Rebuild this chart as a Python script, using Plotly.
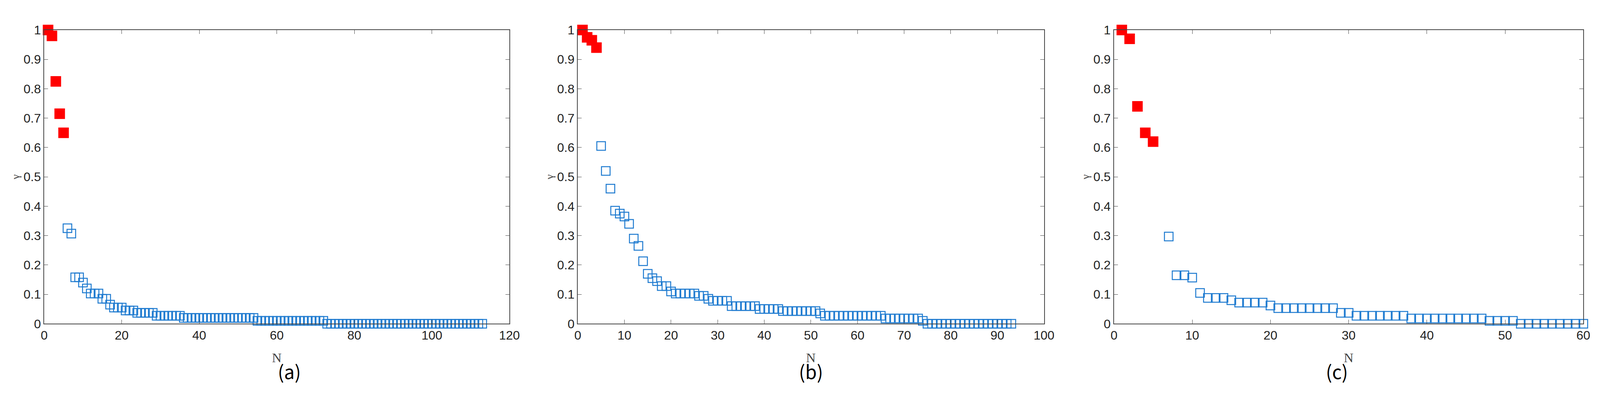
import plotly.graph_objects as go

# Panel (a)
a_red_x = [1, 2, 3, 4, 5]
a_red_y = [1.0, 0.98, 0.825, 0.715, 0.65]
a_blue_x = list(range(6, 114))
a_blue_y = ([0.325, 0.307, 0.158, 0.158, 0.14, 0.12, 0.103, 0.103, 0.103, 0.085, 0.085,
             0.065, 0.055, 0.055, 0.055, 0.045, 0.045, 0.045]
            + [0.037] * 5 + [0.027] * 7 + [0.02] * 19 + [0.01] * 18 + [0.0] * 41)

# Panel (b)
b_red_x = [1, 2, 3, 4]
b_red_y = [1.0, 0.975, 0.965, 0.94]
b_blue_x = list(range(5, 94))
b_blue_y = ([0.605, 0.52, 0.46, 0.385, 0.375, 0.365, 0.34, 0.29, 0.265, 0.213, 0.17,
             0.155, 0.145, 0.128, 0.128, 0.11]
            + [0.103] * 5 + [0.095] * 2 + [0.085] + [0.078] * 4 + [0.06] * 6
            + [0.05] * 5 + [0.043] * 8 + [0.035] + [0.027] * 13 + [0.018] * 8
            + [0.01] + [0.0] * 19)

# Panel (c)
c_red_x = [1, 2, 3, 4, 5]
c_red_y = [1.0, 0.97, 0.74, 0.65, 0.62]
c_blue_x = list(range(7, 61))
c_blue_y = ([0.297, 0.165, 0.165, 0.157, 0.105] + [0.088] * 3 + [0.08] + [0.072] * 4
            + [0.062] + [0.053] * 8 + [0.037] * 2 + [0.027] * 7 + [0.018] * 10
            + [0.01] * 4 + [0.0] * 9)

captions = ["(a)", "(b)", "(c)"]
x_ranges = [[0, 120], [0, 100], [0, 60]]
x_dtick = [20, 10, 10]
domains = [[0.0236, 0.316], [0.359, 0.652], [0.696, 0.991]]

panels = [(a_red_x, a_red_y, a_blue_x, a_blue_y),
          (b_red_x, b_red_y, b_blue_x, b_blue_y),
          (c_red_x, c_red_y, c_blue_x, c_blue_y)]

fig = go.Figure()
for i, (rx, ry, bx, by) in enumerate(panels):
    sfx = "" if i == 0 else str(i + 1)
    fig.add_trace(go.Scatter(x=bx, y=by, mode="markers", xaxis="x" + sfx, yaxis="y" + sfx,
                             marker=dict(symbol="square-open", size=22, color="#1f7bd0",
                                         line=dict(width=2.5, color="#1f7bd0")),
                             showlegend=False, cliponaxis=False))
    fig.add_trace(go.Scatter(x=rx, y=ry, mode="markers", xaxis="x" + sfx, yaxis="y" + sfx,
                             marker=dict(symbol="square", size=27, color="#ff0000",
                                         line=dict(width=0)),
                             showlegend=False, cliponaxis=False))
    ax = dict(domain=domains[i], range=x_ranges[i], dtick=x_dtick[i], tick0=0,
              showline=True, linecolor="#444", linewidth=2, mirror="ticks",
              ticks="inside", ticklen=10, tickcolor="#444", showgrid=False, zeroline=False,
              tickfont=dict(family="Liberation Sans", size=32, color="#222"),
              title=dict(text="N", font=dict(family="Liberation Serif", size=34, color="#444"),
                         standoff=28),
              anchor="y" + sfx)
    ay = dict(domain=[0.21, 0.95], range=[0, 1], dtick=0.1, tickformat="~g",
              showline=True, linecolor="#444", linewidth=2, mirror="ticks",
              ticks="inside", ticklen=10, tickcolor="#444", showgrid=False, zeroline=False,
              tickfont=dict(family="Liberation Sans", size=32, color="#222"),
              title=dict(text="γ", font=dict(family="Liberation Serif", size=28, color="#444"),
                         standoff=2),
              anchor="x" + sfx)
    fig.update_layout({"xaxis" + sfx: ax, "yaxis" + sfx: ay})
    fig.add_annotation(text=captions[i], x=sum(domains[i]) / 2, y=0.055, xref="paper",
                       yref="paper", showarrow=False,
                       font=dict(family="Noto Sans CJK SC", size=48, color="#000"))

fig.update_layout(width=4109, height=1053, margin=dict(l=0, r=0, t=0, b=0),
                  paper_bgcolor="white", plot_bgcolor="white")
fig.write_html("out.html")
